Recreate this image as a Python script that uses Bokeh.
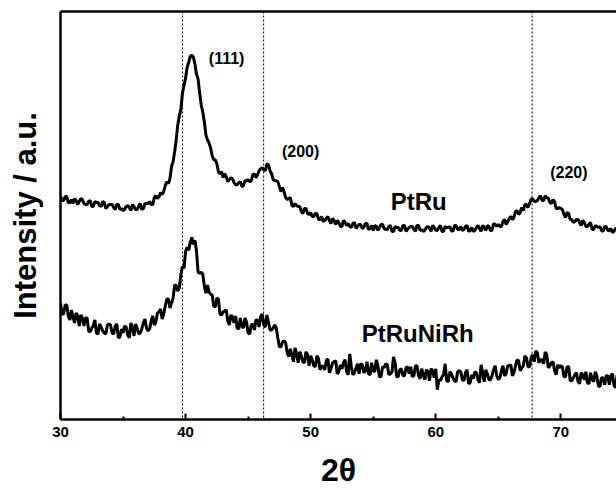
from bokeh.plotting import figure
from bokeh.models import Span, Label, LinearAxis, FixedTicker, Range1d
from bokeh.embed import file_html
from bokeh.resources import INLINE

# 2-theta scan: start and step (degrees)
scan_start = 30.0
scan_step = 0.125

# PtRu intensity (a.u., offset trace), one value per scan step (30.000 ... 74.500)
ptru = [
    224, 220, 220, 224, 224, 218, 218, 221, 217, 222, 220, 216, 219, 222, 221, 217,
    216, 216, 219, 220, 214, 214, 219, 218, 218, 215, 214, 219, 218, 212, 214, 216,
    216, 216, 213, 211, 216, 216, 211, 212, 210, 211, 214, 215, 213, 210, 216, 214,
    211, 211, 214, 217, 211, 212, 217, 217, 217, 219, 216, 216, 223, 225, 222, 224,
    228, 226, 229, 235, 239, 237, 242, 254, 259, 269, 281, 296, 305, 312, 328, 336,
    343, 354, 359, 365, 366, 364, 357, 347, 342, 328, 316, 309, 299, 286, 281, 278,
    273, 265, 261, 261, 257, 249, 247, 249, 243, 247, 244, 239, 241, 243, 242, 238,
    236, 236, 238, 239, 234, 235, 240, 240, 241, 239, 240, 246, 247, 243, 246, 250,
    252, 253, 251, 250, 257, 256, 250, 247, 241, 240, 240, 239, 234, 229, 233, 229,
    223, 221, 222, 223, 215, 214, 217, 215, 214, 214, 209, 207, 212, 212, 207, 206,
    208, 204, 204, 207, 207, 201, 201, 204, 199, 200, 202, 204, 200, 197, 202, 200,
    196, 200, 198, 194, 194, 200, 198, 195, 197, 194, 193, 197, 198, 192, 194, 196,
    196, 192, 193, 197, 197, 191, 192, 195, 190, 195, 194, 190, 193, 196, 196, 192,
    191, 191, 194, 195, 189, 189, 194, 193, 193, 190, 190, 195, 195, 189, 191, 193,
    194, 194, 191, 189, 195, 195, 190, 191, 189, 190, 193, 194, 192, 189, 195, 193,
    190, 190, 193, 195, 189, 189, 194, 193, 193, 194, 190, 189, 195, 195, 191, 191,
    194, 190, 191, 194, 195, 189, 190, 193, 189, 190, 193, 195, 192, 189, 195, 193,
    190, 195, 194, 190, 190, 197, 196, 194, 196, 194, 194, 199, 201, 196, 199, 202,
    204, 201, 203, 209, 210, 206, 208, 213, 210, 216, 216, 213, 217, 221, 222, 219,
    219, 220, 223, 225, 220, 220, 225, 223, 222, 218, 217, 221, 219, 212, 212, 213,
    212, 211, 206, 203, 208, 207, 201, 201, 198, 199, 201, 201, 198, 195, 200, 198,
    194, 194, 196, 198, 191, 191, 195, 194, 193, 194, 190, 189, 194, 194, 190, 190,
    192, 188, 189, 192, 192,
]

# PtRuNiRh intensity (a.u., offset trace)
ptrunirh = [
    117, 106, 106, 115, 115, 104, 100, 110, 103, 97, 107, 104, 94, 105, 102, 94,
    102, 102, 89, 88, 92, 94, 100, 87, 86, 96, 93, 89, 87, 86, 95, 96,
    95, 87, 86, 94, 96, 82, 83, 91, 87, 94, 93, 85, 82, 97, 93, 84,
    96, 92, 86, 87, 91, 97, 101, 92, 89, 91, 99, 104, 95, 98, 107, 108,
    111, 101, 106, 114, 121, 121, 112, 117, 122, 135, 135, 129, 132, 146, 154, 152,
    169, 173, 170, 178, 183, 176, 180, 169, 148, 147, 148, 146, 134, 127, 135, 128,
    126, 125, 114, 113, 122, 121, 106, 105, 108, 109, 110, 99, 95, 105, 103, 97,
    104, 92, 91, 102, 94, 92, 102, 98, 87, 86, 95, 96, 90, 100, 100, 93,
    103, 106, 95, 93, 105, 98, 90, 90, 92, 95, 92, 82, 73, 73, 78, 79,
    77, 67, 63, 71, 65, 58, 72, 66, 57, 68, 64, 58, 57, 68, 65, 54,
    64, 60, 54, 53, 64, 61, 50, 54, 53, 50, 59, 61, 47, 51, 57, 58,
    59, 46, 48, 55, 51, 57, 60, 48, 45, 66, 53, 45, 47, 52, 56, 46,
    56, 55, 47, 49, 58, 46, 45, 57, 49, 48, 60, 54, 43, 43, 53, 52,
    56, 55, 45, 46, 48, 63, 57, 43, 43, 50, 51, 44, 44, 52, 53, 46,
    53, 43, 44, 54, 54, 44, 41, 51, 45, 40, 50, 48, 39, 51, 49, 42,
    51, 30, 40, 39, 43, 45, 56, 39, 38, 48, 46, 42, 39, 38, 48, 49,
    48, 40, 39, 47, 50, 36, 37, 45, 41, 48, 47, 40, 37, 55, 47, 38,
    50, 46, 40, 40, 44, 50, 54, 44, 40, 42, 49, 54, 44, 46, 54, 54,
    55, 44, 47, 54, 60, 59, 49, 52, 54, 64, 62, 53, 53, 62, 65, 58,
    69, 67, 57, 60, 60, 56, 68, 65, 52, 54, 57, 58, 49, 45, 55, 52,
    54, 53, 43, 43, 53, 53, 39, 39, 42, 45, 47, 38, 36, 47, 45, 40,
    48, 37, 36, 47, 40, 38, 48, 44, 34, 33, 42, 42, 35, 44, 44, 35,
    44, 46, 34, 32, 45,
]

# Reference reflection positions (dotted lines), degrees 2-theta
ref_positions = [39.76, 46.24, 67.7]

# Axis ticks
x_major_ticks = [30, 40, 50, 60, 70]
x_minor_ticks = [35, 45, 55, 65, 75]

two_theta = [round(scan_start + i * scan_step, 3) for i in range(len(ptru))]
two_theta_b = [round(scan_start + i * scan_step, 3) for i in range(len(ptrunirh))]

FONT = "Liberation Sans"

p = figure(
    width=616, height=490,
    x_range=Range1d(30, 74.45), y_range=Range1d(0, 410),
    output_backend="svg", toolbar_location=None,
    min_border_left=60, min_border_right=0, min_border_top=11, min_border_bottom=69,
    background_fill_color="white", border_fill_color="white",
)
p.outline_line_color = None
p.xgrid.visible = False
p.ygrid.visible = False

# bottom axis
xa = p.xaxis[0]
xa.ticker = FixedTicker(ticks=x_major_ticks, minor_ticks=x_minor_ticks)
xa.major_tick_in = 6
xa.major_tick_out = 0
xa.minor_tick_in = 3
xa.minor_tick_out = 0
xa.major_tick_line_width = 2
xa.minor_tick_line_width = 2
xa.axis_line_width = 2.5
xa.major_label_text_font = FONT
xa.major_label_text_font_style = "bold"
xa.major_label_text_font_size = "15px"
xa.major_label_text_color = "black"
xa.major_label_standoff = 7
xa.axis_label = "2θ"
xa.axis_label_text_font = FONT
xa.axis_label_text_font_style = "bold"
xa.axis_label_text_font_size = "32px"
xa.axis_label_text_color = "black"
xa.axis_label_standoff = 12

# left axis
ya = p.yaxis[0]
ya.ticker = FixedTicker(ticks=[])
ya.major_tick_in = 0
ya.major_tick_out = 0
ya.minor_tick_in = 0
ya.minor_tick_out = 0
ya.axis_line_width = 2.5
ya.axis_label = "Intensity / a.u."
ya.axis_label_text_font = FONT
ya.axis_label_text_font_style = "bold"
ya.axis_label_text_font_size = "31px"
ya.axis_label_text_color = "black"
ya.axis_label_standoff = 18

# top border as an empty axis
top = LinearAxis(ticker=FixedTicker(ticks=[]), axis_line_width=2.5,
                 major_tick_in=0, major_tick_out=0, minor_tick_in=0, minor_tick_out=0)
p.add_layout(top, "above")

for pos in ref_positions:
    p.add_layout(Span(location=pos, dimension="height", line_color="black",
                      line_width=1, line_dash="2 2"))

p.line(two_theta, ptru, line_color="black", line_width=3)
p.line(two_theta_b, ptrunirh, line_color="black", line_width=3)

def lab(x, y, text, size):
    p.add_layout(Label(x=x, y=y, text=text, text_font=FONT, text_font_style="bold",
                       text_font_size=size, text_align="center", text_baseline="middle",
                       text_color="black"))

lab(43.28, 363, "(111)", "16px")
lab(49.2, 269, "(200)", "16px")
lab(70.64, 248, "(220)", "16px")
lab(58.64, 219, "PtRu", "24px")
lab(58.56, 86, "PtRuNiRh", "24px")

open("out.html", "w").write(file_html(p, INLINE))
